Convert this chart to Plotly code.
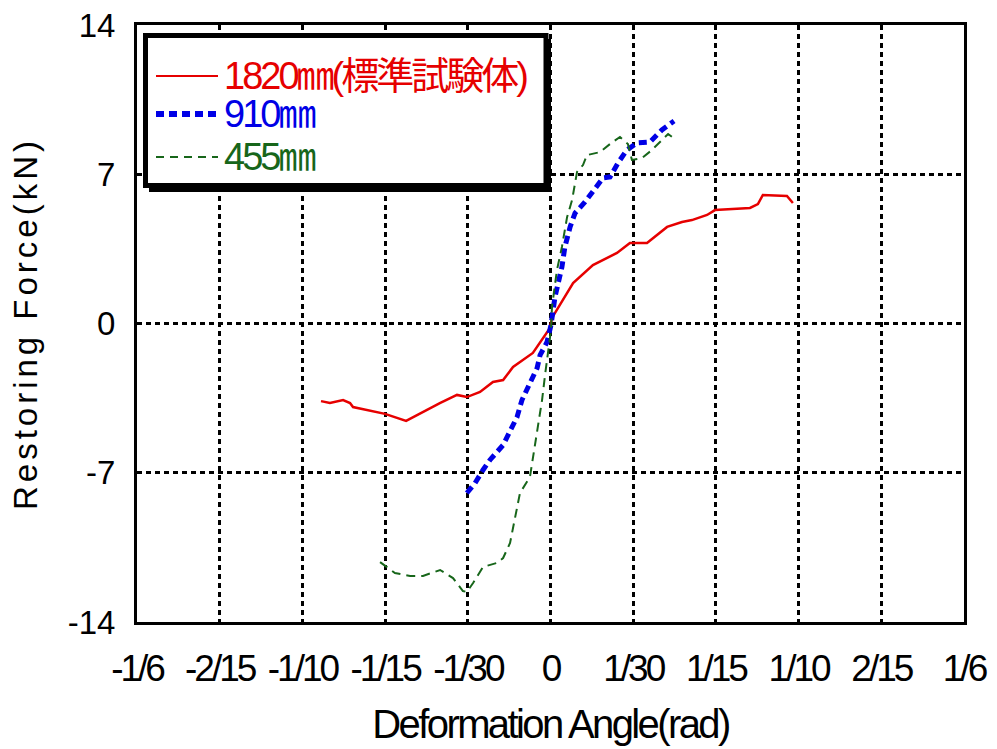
import plotly.graph_objects as go

# Restoring force vs. deformation angle for three wall widths
angle_1820 = [-0.0925, -0.0889, -0.0836, -0.0808, -0.0796, -0.0667, -0.0582, -0.0554,
              -0.0446, -0.0377, -0.0337, -0.0284, -0.0232, -0.0191, -0.0151, -0.0071,
              -0.0002, 0.0006, 0.0067, 0.0091, 0.0171, 0.0268, 0.0320, 0.0389, 0.0470,
              0.0530, 0.0570, 0.0631, 0.0663, 0.0804, 0.0836, 0.0856, 0.0953, 0.0977]
force_1820 = [-3.64, -3.73, -3.59, -3.73, -3.92, -4.24, -4.57, -4.39,
              -3.73, -3.35, -3.45, -3.21, -2.74, -2.65, -2.04, -1.38,
              -0.21, 0.26, 1.48, 1.90, 2.74, 3.31, 3.78, 3.78, 4.53,
              4.76, 4.85, 5.09, 5.32, 5.42, 5.60, 6.03, 5.98, 5.65]

angle_910 = [-0.0337, -0.0304, -0.0272, -0.0244, -0.0191, -0.0163, -0.0135, -0.0115,
             -0.0091, -0.0054, -0.0042, -0.0014, 0.0002, 0.0018, 0.0046, 0.0058,
             0.0079, 0.0099, 0.0139, 0.0179, 0.0212, 0.0240, 0.0272, 0.0308,
             0.0349, 0.0401, 0.0449, 0.0498]
force_910 = [-7.95, -7.48, -6.87, -6.40, -5.70, -5.09, -4.39, -3.59,
             -2.98, -2.09, -1.48, -0.87, -0.07, 1.24, 2.65, 3.59,
             4.53, 5.18, 5.70, 6.36, 6.83, 6.87, 7.53, 8.14,
             8.47, 8.51, 9.08, 9.50]

angle_455 = [-0.0687, -0.0627, -0.0566, -0.0514, -0.0445, -0.0393, -0.0353, -0.0337,
             -0.0312, -0.0272, -0.0216, -0.0191, -0.0163, -0.0151, -0.0123, -0.0083,
             -0.0062, -0.0050, -0.0034, -0.0022, -0.0010, 0.0002, 0.0006, 0.0018,
             0.0026, 0.0046, 0.0058, 0.0067, 0.0087, 0.0099, 0.0107, 0.0131,
             0.0147, 0.0200, 0.0240, 0.0280, 0.0312, 0.0328, 0.0369, 0.0409,
             0.0441, 0.0474, 0.0506]
force_455 = [-11.19, -11.70, -11.84, -11.84, -11.56, -11.94, -12.55, -12.59,
             -12.17, -11.42, -11.23, -11.00, -10.29, -9.55, -7.95, -7.20,
             -5.61, -4.67, -3.59, -2.42, -1.24, -0.30, 0.77, 1.71,
             2.51, 3.59, 4.39, 5.00, 5.79, 6.59, 7.11, 7.43,
             7.90, 8.04, 8.42, 8.75, 8.42, 7.67, 7.76, 8.14,
             8.51, 8.89, 8.61]

x_tickvals = [-1/6, -2/15, -1/10, -1/15, -1/30, 0, 1/30, 1/15, 1/10, 2/15, 1/6]
x_ticktext = ["-1/6", "-2/15", "-1/10", "-1/15", "-1/30", "0", "1/30", "1/15", "1/10", "2/15", "1/6"]
y_tickvals = [-14, -7, 0, 7, 14]
y_ticktext = ["-14", "-7", "0", "7", "14"]

series_names = ["1820㎜(標準試験体)", "910㎜", "455㎜"]
RED, BLUE, GREEN = "#e60000", "#0000e6", "#17661a"

FONT = "Liberation Sans, Arial, Noto Sans CJK JP, sans-serif"


def tight(text, spacing):
    """Wrap text in a span with the given letter spacing (px)."""
    return '<span style="letter-spacing:%.1fpx">%s</span>' % (spacing, text)


fig = go.Figure()
fig.add_trace(go.Scatter(x=angle_1820, y=force_1820, mode="lines", name=series_names[0],
                         line=dict(color=RED, width=2.5), showlegend=False))
fig.add_trace(go.Scatter(x=angle_910, y=force_910, mode="lines", name=series_names[1],
                         line=dict(color=BLUE, width=5, dash="8px,5px"), showlegend=False))
fig.add_trace(go.Scatter(x=angle_455, y=force_455, mode="lines", name=series_names[2],
                         line=dict(color=GREEN, width=2, dash="9px,6px"), showlegend=False))

# plot-area geometry in pixels, used to place the boxed key in paper units
L, R, T, B = 137, 964, 25, 622
def px(x):
    return (x - L) / (R - L)
def py(y):
    return (B - y) / (B - T)

shapes = [
    dict(type="rect", xref="paper", yref="paper", x0=px(149), x1=px(551), y0=py(192), y1=py(39),
         fillcolor="black", line=dict(width=0), layer="above"),
    dict(type="rect", xref="paper", yref="paper", x0=px(145.5), x1=px(546), y0=py(185.5), y1=py(35.5),
         fillcolor="white", line=dict(color="black", width=5), layer="above"),
]
key_rows = [(76, RED, 2, "solid"), (114, BLUE, 6, "8px,5px"), (157, GREEN, 2, "8px,6px")]
annotations = []
for (yy, col, w, dash), name in zip(key_rows, series_names):
    shapes.append(dict(type="line", xref="paper", yref="paper", x0=px(156), x1=px(218),
                       y0=py(yy), y1=py(yy), line=dict(color=col, width=w, dash=dash), layer="above"))
    annotations.append(dict(xref="paper", yref="paper", x=px(222), y=py(yy), xanchor="left",
                            yanchor="middle", text=tight(name, -3.0), showarrow=False,
                            font=dict(family=FONT, size=38, color=col)))

grid = dict(showgrid=True, gridcolor="black", gridwidth=3, griddash="5px,4px",
            zeroline=False, showline=True, linecolor="black", linewidth=3, mirror=True,
            automargin=False)

fig.update_layout(
    width=997, height=749,
    margin=dict(l=L, r=997 - R, t=T, b=749 - B),
    paper_bgcolor="white", plot_bgcolor="white",
    shapes=shapes, annotations=annotations,
    xaxis=dict(range=[-1/6, 1/6], tickvals=x_tickvals,
               ticktext=[tight(t, -3.0) for t in x_ticktext], tickangle=0,
               tickfont=dict(family=FONT, size=37, color="black"),
               ticklabelstandoff=12,
               title=dict(text=tight("Deformation Angle(rad)", -2.6),
                          font=dict(family=FONT, size=40, color="black"), standoff=22),
               **grid),
    yaxis=dict(range=[-14, 14], tickvals=y_tickvals, ticktext=y_ticktext,
               tickfont=dict(family=FONT, size=33, color="black"),
               ticklabelstandoff=12,
               title=dict(text=tight("Restoring Force(kN)", 4),
                          font=dict(family=FONT, size=33, color="black"), standoff=21),
               **grid),
)

fig.write_html("out.html")
